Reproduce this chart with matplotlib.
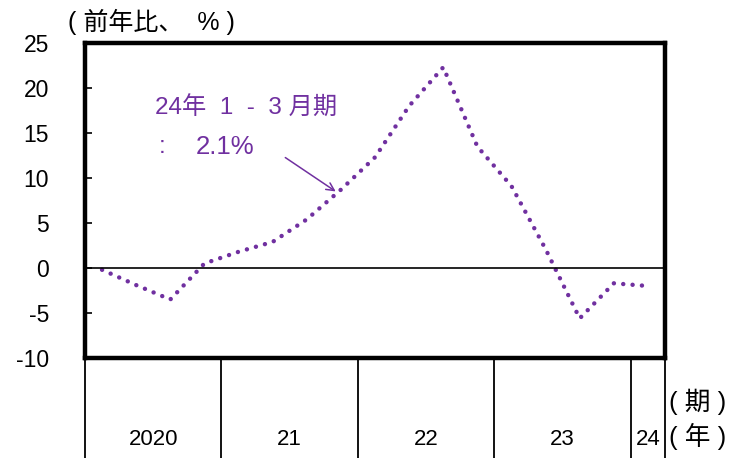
import numpy as np
import matplotlib
matplotlib.use("Agg")
from matplotlib import pyplot as plt
import matplotlib.transforms as mtransforms

plt.rcParams['font.family'] = ['Liberation Sans', 'Noto Sans CJK JP', 'DejaVu Sans']

# quarterly data, 2020 Q1 .. 2024 Q1 (前年比, %)
values = [-0.2, -1.9, -3.5, 0.5, 1.8, 2.9, 5.4, 8.7, 12.3,
          18.0, 22.3, 13.5, 9.1, 2.1, -5.6, -1.7, -2.0]
year_labels = ['2020', '21', '22', '23', '24']
year_bounds = [-0.5, 3.5, 7.5, 11.5, 15.5, 16.5]
yticks = [-10, -5, 0, 5, 10, 15, 20, 25]

purple = '#7030A0'

fig = plt.figure(figsize=(7.35, 4.58), dpi=100)
ax = fig.add_axes([85 / 735, 1 - 358 / 458, 580 / 735, 315 / 458])

x = np.arange(len(values))
ax.plot(x, values, color=purple, lw=3.2, linestyle=(0, (0.01, 2.1)),
        dash_capstyle='round')
ax.axhline(0, color='black', lw=1.2)

ax.set_xlim(-0.5, 16.5)
ax.set_ylim(-10, 25)
ax.set_yticks(yticks)
ax.set_yticklabels([str(v) for v in yticks], fontsize=16.5)
ax.tick_params(axis='y', direction='in', length=5, width=1.2, pad=26)
ax.set_xticks([])
for s in ax.spines.values():
    s.set_linewidth(3.2)

# year separators and labels below the axes
trans = mtransforms.blended_transform_factory(ax.transData, ax.transAxes)
for b in year_bounds:
    ax.plot([b, b], [0, -0.32], color='black', lw=1.3, transform=trans, clip_on=False)
centers = [(year_bounds[i] + year_bounds[i + 1]) / 2 for i in range(len(year_labels))]
for c, lab in zip(centers, year_labels):
    ax.text(c, -0.26, lab, transform=trans, ha='center', va='center', fontsize=16)

fig.text(669 / 735, 1 - 402 / 458, '( 期 )', fontsize=18.5, va='center', ha='left')
fig.text(669 / 735, 1 - 436 / 458, '( 年 )', fontsize=18.5, va='center', ha='left')
fig.text(68 / 735, 1 - 22 / 458, '( 前年比、  % )', fontsize=18, va='center', ha='left')

# annotation
ax.text(155 / 735, 1 - 108 / 458, '24年  1  -  3 月期', transform=fig.transFigure,
        color=purple, fontsize=17.5, va='center', ha='left')
ax.text(159 / 735, 1 - 147 / 458, ':', transform=fig.transFigure,
        color=purple, fontsize=17.5, va='center', ha='left')
ax.text(196 / 735, 1 - 147 / 458, '2.1%', transform=fig.transFigure,
        color=purple, fontsize=18.5, va='center', ha='left')
ax.annotate('', xy=(338 / 735, 1 - 193 / 458), xytext=(283 / 735, 1 - 156 / 458),
            xycoords='figure fraction', textcoords='figure fraction',
            arrowprops=dict(arrowstyle='->', color=purple, lw=1.1, mutation_scale=14))

fig.savefig('out.png', dpi=100)
